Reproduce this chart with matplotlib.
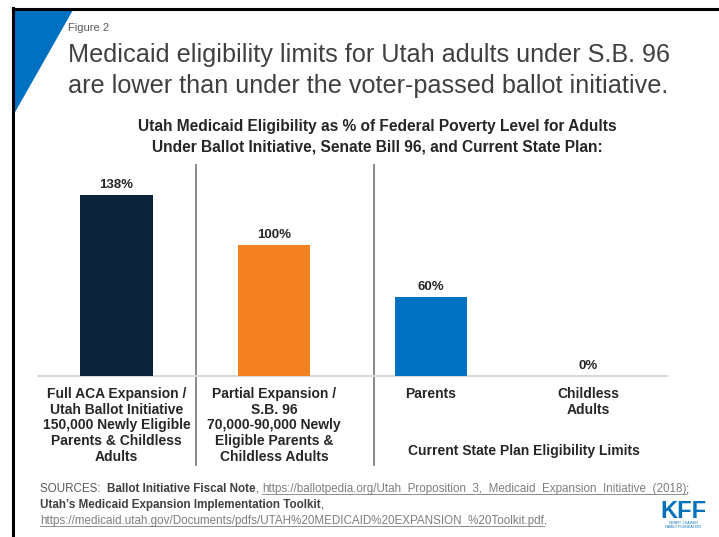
import matplotlib
matplotlib.use("Agg")
import matplotlib.pyplot as plt
from matplotlib.patches import Polygon
from matplotlib.lines import Line2D

plt.rcParams['font.family'] = ['Liberation Sans', 'DejaVu Sans']

categories = [
    "Full ACA Expansion /\nUtah Ballot Initiative\n150,000 Newly Eligible\nParents & Childless\nAdults",
    "Partial Expansion /\nS.B. 96\n70,000-90,000 Newly\nEligible Parents &\nChildless Adults",
    "Parents",
    "Childless\nAdults",
]
values = [138, 100, 60, 0]
value_labels = ["138%", "100%", "60%", "0%"]
colors = ["#0b2239", "#f58220", "#0070c0", "#0070c0"]
group_label = "Current State Plan Eligibility Limits"

W, H = 719, 537
fig = plt.figure(figsize=(W / 100, H / 100), dpi=100)
fig.patch.set_facecolor("white")


def fx(x):
    return x / W


def fy(y):
    return 1 - y / H


# frame lines (top and left)
fig.add_artist(Line2D([fx(13), fx(719)], [fy(8.5), fy(8.5)], color="black", lw=2.2))
fig.add_artist(Line2D([fx(13), fx(13)], [fy(8), fy(537)], color="black", lw=2.2))
# blue triangle
fig.add_artist(Polygon([[fx(14), fy(10)], [fx(73), fy(10)], [fx(14), fy(114)]],
                       closed=True, color="#0070c0", lw=0))

fig.text(fx(68), fy(28), "Figure 2", fontsize=8, color="#595959", va="center")
fig.text(fx(68), fy(55), "Medicaid eligibility limits for Utah adults under S.B. 96",
         fontsize=18.2, color="#404040", va="center")
fig.text(fx(68), fy(86), "are lower than under the voter-passed ballot initiative.",
         fontsize=18.2, color="#404040", va="center")

fig.text(fx(377), fy(127), "Utah Medicaid Eligibility as % of Federal Poverty Level for Adults",
         fontsize=11.2, fontweight="bold", color="#262626", ha="center", va="center")
fig.text(fx(377), fy(147), "Under Ballot Initiative, Senate Bill 96, and Current State Plan:",
         fontsize=11.2, fontweight="bold", color="#262626", ha="center", va="center")

# axes
ax_l, ax_r, ax_t, ax_b = 38, 667, 165, 376
ax = fig.add_axes([fx(ax_l), fy(ax_b), (ax_r - ax_l) / W, (ax_b - ax_t) / H])
x = list(range(len(values)))
ax.bar(x, values, width=0.46, color=colors, zorder=3)
ax.set_xlim(-0.5, 3.5)
ax.set_ylim(0, 161)
for s in ["top", "left", "right"]:
    ax.spines[s].set_visible(False)
ax.spines["bottom"].set_color("#d9d9d9")
ax.spines["bottom"].set_linewidth(1.5)
ax.set_yticks([])
ax.set_xticks(x)
ax.set_xticklabels(categories, fontsize=10, fontweight="bold", color="#262626",
                   linespacing=1.15, va="top")
ax.tick_params(axis="x", length=0, pad=8)
for xi, v, lab in zip(x, values, value_labels):
    ax.annotate(lab, (xi, v), xytext=(0, 3), textcoords="offset points",
                ha="center", va="bottom", fontsize=9.5, fontweight="bold", color="#262626")

# separators
for sx in [0.502, 1.634]:
    ax.axvline(sx, ymin=-(465 - ax_b) / (ax_b - ax_t), ymax=1.0, color="#7f7f7f",
               lw=1.3, clip_on=False, zorder=1)

px_per_unit = (ax_b - ax_t) / 161
t = ax.text(2.59, -(451 - ax_b) / px_per_unit, group_label,
            ha="center", va="center", fontsize=10, fontweight="bold", color="#262626")
t.set_clip_on(False)

# sources
fig.canvas.draw()
renderer = fig.canvas.get_renderer()


def seq(y, parts):
    xpos = fx(40)
    for txt, color, weight, underline in parts:
        tt = fig.text(xpos, fy(y), txt, fontsize=8.4, color=color, fontweight=weight, va="baseline")
        bb = tt.get_window_extent(renderer=renderer)
        w = bb.width / W
        if underline:
            fig.add_artist(Line2D([xpos, xpos + w], [fy(y + 2), fy(y + 2)], color=color, lw=0.6))
        xpos += w


seq(492, [("SOURCES:  ", "#595959", "normal", False),
          ("Ballot Initiative Fiscal Note", "#404040", "bold", False),
          (", ", "#404040", "normal", False),
          ("https://ballotpedia.org/Utah_Proposition_3,_Medicaid_Expansion_Initiative_(2018)", "#7f7f7f", "normal", True),
          (";", "#404040", "normal", False)])
seq(508, [("Utah\u2019s Medicaid Expansion Implementation Toolkit", "#404040", "bold", False),
          (",", "#404040", "normal", False)])
seq(524, [("https://medicaid.utah.gov/Documents/pdfs/UTAH%20MEDICAID%20EXPANSION_%20Toolkit.pdf", "#7f7f7f", "normal", True),
          (".", "#404040", "normal", False)])

# KFF logo
fig.text(fx(683), fy(511), "KFF", fontsize=17, fontweight="bold", color="#0072bc",
         ha="center", va="center", fontstretch="condensed")
fig.text(fx(683), fy(523), "HENRY J KAISER", fontsize=2.5, color="#0072bc", ha="center", va="center")
fig.text(fx(683), fy(527), "FAMILY FOUNDATION", fontsize=2.5, color="#0072bc", ha="center", va="center")

fig.savefig("out.png", dpi=100, facecolor="white")
